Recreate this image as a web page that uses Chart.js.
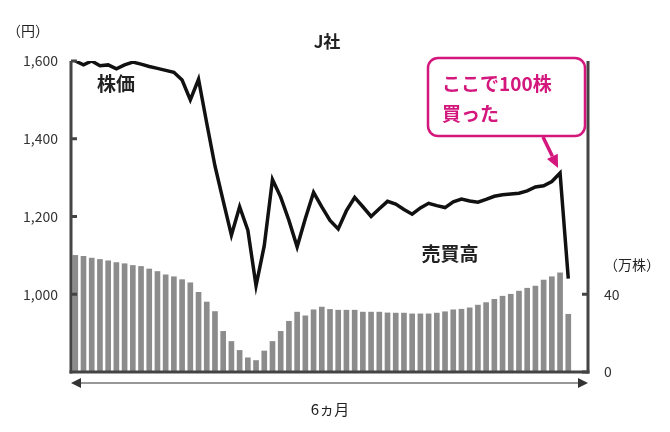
<!DOCTYPE html>
<html>
<head>
<meta charset="utf-8">
<script src="https://cdn.jsdelivr.net/npm/chart.js@4/dist/chart.umd.min.js"></script>
<style>
  html, body { margin: 0; padding: 0; background: #fff; }
  #wrap { width: 670px; height: 432px; }
</style>
</head>
<body>
<div id="wrap"><canvas id="c" width="670" height="432"></canvas></div>
<script>
// price (yen) and volume (10k shares), one entry per trading step
const price = [1600,1590,1600,1588,1590,1580,1590,1597,1592,1586,1581,1576,1571,1551,1500,1553,1440,1330,1240,1152,
  1225,1165,1022,1125,1295,1250,1190,1122,1195,1262,1225,1190,1168,1215,1249,1225,1200,1220,1239,1232,
  1218,1206,1222,1234,1228,1223,1238,1245,1240,1237,1244,1252,1256,1258,1260,1266,1276,1279,1290,1312,1040];
const volume = [60,59.5,58.6,57.9,57.2,56.3,55.7,54.8,54.3,53,51.7,50,49,47.5,45.9,41,36,31.1,20.9,15.7,
  11.1,7.3,5.9,10.8,15.7,20.9,26.1,30.8,28.9,32,33.4,32.2,31.8,31.8,31.8,30.8,30.8,30.8,30.4,30.3,
  30.3,29.9,29.9,29.9,30.3,31,32,32.3,33,34.4,35.7,37.4,39,40,41.6,43.1,44.2,47.3,49,51,29.7];
const priceTicks = [1000, 1200, 1400, 1600];
const volumeTicks = [0, 40];

const FONT = '"Noto Sans CJK JP", "Noto Sans", sans-serif';
const AXIS = '#444';

const decor = {
  id: 'decor',
  afterDraw(chart) {
    const ctx = chart.ctx, a = chart.chartArea;
    const yl = chart.scales.y, yr = chart.scales.y2;
    const L = Math.round(a.left) - 1, R = Math.round(a.right), B = Math.round(a.bottom), T = Math.round(a.top);
    ctx.save();
    // axis lines and inner ticks
    ctx.fillStyle = AXIS;
    ctx.fillRect(L - 1.5, T, 3, B - T + 1.5);
    ctx.fillRect(R - 1.5, T, 3, B - T + 1.5);
    ctx.fillRect(L - 1.5, B - 1.5, R - L + 3, 3);
    priceTicks.forEach(v => { const y = yl.getPixelForValue(v); ctx.fillRect(L, y - 1.5, 6, 3); });
    volumeTicks.forEach(v => { const y = yr.getPixelForValue(v); ctx.fillRect(R - 6, y - 1.5, 6, 3); });

    // period arrow
    const ay = B + 11;
    ctx.strokeStyle = '#333'; ctx.fillStyle = '#333'; ctx.lineWidth = 1.2;
    ctx.beginPath(); ctx.moveTo(L + 6, ay); ctx.lineTo(R - 6, ay); ctx.stroke();
    ctx.beginPath(); ctx.moveTo(L, ay); ctx.lineTo(L + 10, ay - 5); ctx.lineTo(L + 10, ay + 5); ctx.fill();
    ctx.beginPath(); ctx.moveTo(R, ay); ctx.lineTo(R - 10, ay - 5); ctx.lineTo(R - 10, ay + 5); ctx.fill();

    // texts
    ctx.fillStyle = '#222';
    ctx.textBaseline = 'middle';
    ctx.font = '15px ' + FONT; ctx.textAlign = 'center';
    ctx.fillText('6ヵ月', 330, 409);
    ctx.font = '14px ' + FONT;
    ctx.fillText('（円）', 28, 31);
    ctx.fillText('（万株）', 632, 265);
    ctx.font = 'bold 17px ' + FONT;
    ctx.fillText('J社', 327, 42);
    ctx.font = 'bold 19px ' + FONT;
    ctx.fillText('株価', 116, 84);
    ctx.fillText('売買高', 450, 254);

    // callout
    const M = '#d4177d';
    ctx.strokeStyle = M; ctx.lineWidth = 2.5; ctx.fillStyle = '#fff';
    ctx.beginPath(); ctx.roundRect(428, 58, 157, 78, 10); ctx.fill(); ctx.stroke();
    ctx.fillStyle = M; ctx.textAlign = 'left';
    ctx.font = 'bold 19px ' + FONT;
    ctx.fillText('ここで100株', 442, 84);
    ctx.fillText('買った', 442, 114);
    // arrow towards the purchase point
    const tx = chart.scales.x.getPixelForValue(59) - 2, ty = yl.getPixelForValue(price[59]) - 5;
    const sx = 543, sy = 137;
    const ang = Math.atan2(ty - sy, tx - sx), hl = 13, hw = 6;
    const bx = tx - hl * Math.cos(ang), by = ty - hl * Math.sin(ang);
    ctx.strokeStyle = M; ctx.lineWidth = 3.5;
    ctx.beginPath(); ctx.moveTo(sx, sy); ctx.lineTo(bx, by); ctx.stroke();
    ctx.beginPath(); ctx.moveTo(tx, ty);
    ctx.lineTo(bx + hw * Math.sin(ang), by - hw * Math.cos(ang));
    ctx.lineTo(bx - hw * Math.sin(ang), by + hw * Math.cos(ang));
    ctx.closePath(); ctx.fill();
    ctx.restore();
  }
};

new Chart(document.getElementById('c'), {
  data: {
    datasets: [
      {
        type: 'line', yAxisID: 'y',
        data: price.map((v, i) => ({ x: i, y: v })),
        borderColor: '#111', borderWidth: 3.5, pointRadius: 0, tension: 0, order: 1,
        borderJoinStyle: 'miter'
      },
      {
        type: 'bar', yAxisID: 'y2',
        data: volume.map((v, i) => ({ x: i, y: v })),
        backgroundColor: '#8c8c8c', barThickness: 5, order: 2
      }
    ]
  },
  plugins: [decor],
  options: {
    responsive: false, animation: false,
    layout: { padding: { top: 61, bottom: 60 } },
    plugins: { legend: { display: false }, tooltip: { enabled: false } },
    scales: {
      x: { type: 'linear', min: -0.4, max: 62.4, offset: false, display: false },
      y: {
        position: 'left', min: 800, max: 1600,
        afterFit: s => { s.width = 72; },
        border: { display: false }, grid: { display: false },
        afterBuildTicks: s => { s.ticks = priceTicks.map(v => ({ value: v })); },
        ticks: { color: '#333', font: { family: FONT, size: 14 }, padding: 6,
          callback: v => v.toLocaleString('en-US') }
      },
      y2: {
        position: 'right', min: 0, max: 160,
        afterFit: s => { s.width = 82; },
        border: { display: false }, grid: { display: false },
        afterBuildTicks: s => { s.ticks = volumeTicks.map(v => ({ value: v })); },
        ticks: { color: '#333', font: { family: FONT, size: 14 }, padding: 8 }
      }
    }
  }
});
</script>
</body>
</html>
